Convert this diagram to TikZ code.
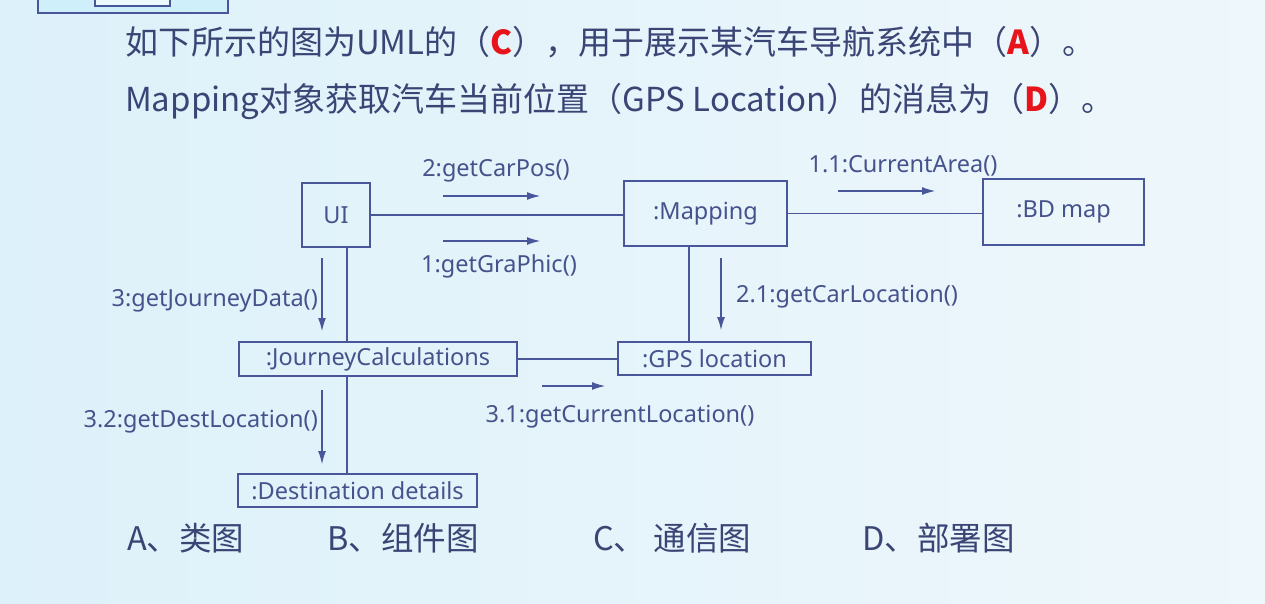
\documentclass[tikz,border=0pt]{standalone}
\usepackage{fontspec}
\setmainfont{Noto Sans}
\newfontfamily\cjk{Noto Sans CJK SC}
\usetikzlibrary{arrows.meta}
\definecolor{bgL}{HTML}{DDF1FA}
\definecolor{bgR}{HTML}{EEF7FB}
\definecolor{ttl}{HTML}{3A4575}
\definecolor{dtxt}{HTML}{46528C}
\definecolor{lin}{HTML}{4A569A}
\definecolor{ans}{HTML}{E8141C}
\definecolor{tabfill}{HTML}{CFEFFB}
\tikzset{
  box/.style={draw=lin, line width=1.1pt, inner sep=0pt, text=dtxt, font=\fontsize{23.5}{23.5}\selectfont},
  conn/.style={draw=lin, line width=1.1pt},
  msg/.style={draw=lin, line width=1.1pt, -{Latex[length=13pt,width=8pt]}},
  lbl/.style={text=dtxt, font=\fontsize{23.5}{23.5}\selectfont, inner sep=0pt},
  title/.style={text=ttl, font=\cjk\fontsize{33}{33}\selectfont, inner sep=0pt, anchor=base west},
  opt/.style={text=ttl, font=\cjk\fontsize{32.5}{32.5}\selectfont, inner sep=0pt, anchor=base west}
}
\newcommand{\ansl}[1]{{\color{ans}\bfseries #1}}
\begin{document}
\begin{tikzpicture}[x=1pt,y=-1pt]
\useasboundingbox (0,0) rectangle (1265,604);
\shade[left color=bgL, right color=bgR] (0,0) rectangle (1265,604);
% top-left tab fragment
\filldraw[fill=tabfill, draw=lin, line width=1.2pt] (38,-5) rectangle (228,13);
\filldraw[fill=white!60!tabfill, draw=lin, line width=1.2pt] (95,-5) rectangle (170,6);
% title lines
\node[title] (t1) at (125,55) {如下所示的图为UML的（\ansl{C}），用于展示某汽车导航系统中（\ansl{A}）。};
\node[title] (t2) at (125,112) {Mapping对象获取汽车当前位置（GPS Location）的消息为（\ansl{D}）。};
% objects
\node[box, minimum width=68pt, minimum height=64pt] (ui) at (336,215) {UI};
\node[box, minimum width=163pt, minimum height=65pt] (map) at (705.5,213.5) {:Mapping};
\node[box, minimum width=161pt, minimum height=66pt] (bd) at (1063.5,212) {:BD map};
\node[box, minimum width=278pt, minimum height=34pt] (jc) at (378,359) {:JourneyCalculations};
\node[box, minimum width=193pt, minimum height=33pt] (gps) at (714.5,358.5) {:GPS location};
\node[box, minimum width=239pt, minimum height=33pt] (dest) at (357.5,490.5) {:Destination details};
% links
\draw[conn] (ui.east) -- (ui.east -| map.west);
\draw[conn] (map.east) -- (map.east -| bd.west);
\draw[conn] ([xshift=11pt]ui.south) -- ([xshift=11pt]ui.south |- jc.north);
\draw[conn] ([xshift=11pt]ui.south |- jc.south) -- ([xshift=11pt]ui.south |- dest.north);
\draw[conn] (jc.east) -- (jc.east -| gps.west);
\draw[conn] ([xshift=-16.5pt]map.south) -- ([xshift=-16.5pt]map.south |- gps.north);
% messages
\coordinate (m2a) at (443,196); \coordinate (m2b) at (540,196);
\draw[msg] (m2a) -- (m2b);
\node[lbl] (l2) at (496,171) {2:getCarPos()};
\coordinate (m1a) at (443,241); \coordinate (m1b) at (540,241);
\draw[msg] (m1a) -- (m1b);
\node[lbl] (l1) at (499,266) {1:getGraPhic()};
\coordinate (m11a) at (838,191); \coordinate (m11b) at (935,191);
\draw[msg] (m11a) -- (m11b);
\node[lbl] (l11) at (903,166) {1.1:CurrentArea()};
\coordinate (m3a) at (322,258); \coordinate (m3b) at (322,331);
\draw[msg] (m3a) -- (m3b);
\node[lbl, anchor=east] (l3) at (318,301) {3:getJourneyData()};
\coordinate (m32a) at (322,390); \coordinate (m32b) at (322,464);
\draw[msg] (m32a) -- (m32b);
\node[lbl, anchor=east] (l32) at (318,422) {3.2:getDestLocation()};
\coordinate (m31a) at (542,386); \coordinate (m31b) at (605,386);
\draw[msg] (m31a) -- (m31b);
\node[lbl] (l31) at (620,417) {3.1:getCurrentLocation()};
\coordinate (m21a) at (721,258); \coordinate (m21b) at (721,330);
\draw[msg] (m21a) -- (m21b);
\node[lbl, anchor=west] (l21) at (736,297) {2.1:getCarLocation()};
% options
\node[opt] (oa) at (127,550) {A、类图};
\node[opt] (ob) at (327,550) {B、组件图};
\node[opt] (oc) at (593,550) {C、 通信图};
\node[opt] (od) at (862,550) {D、部署图};
\end{tikzpicture}
\end{document}
